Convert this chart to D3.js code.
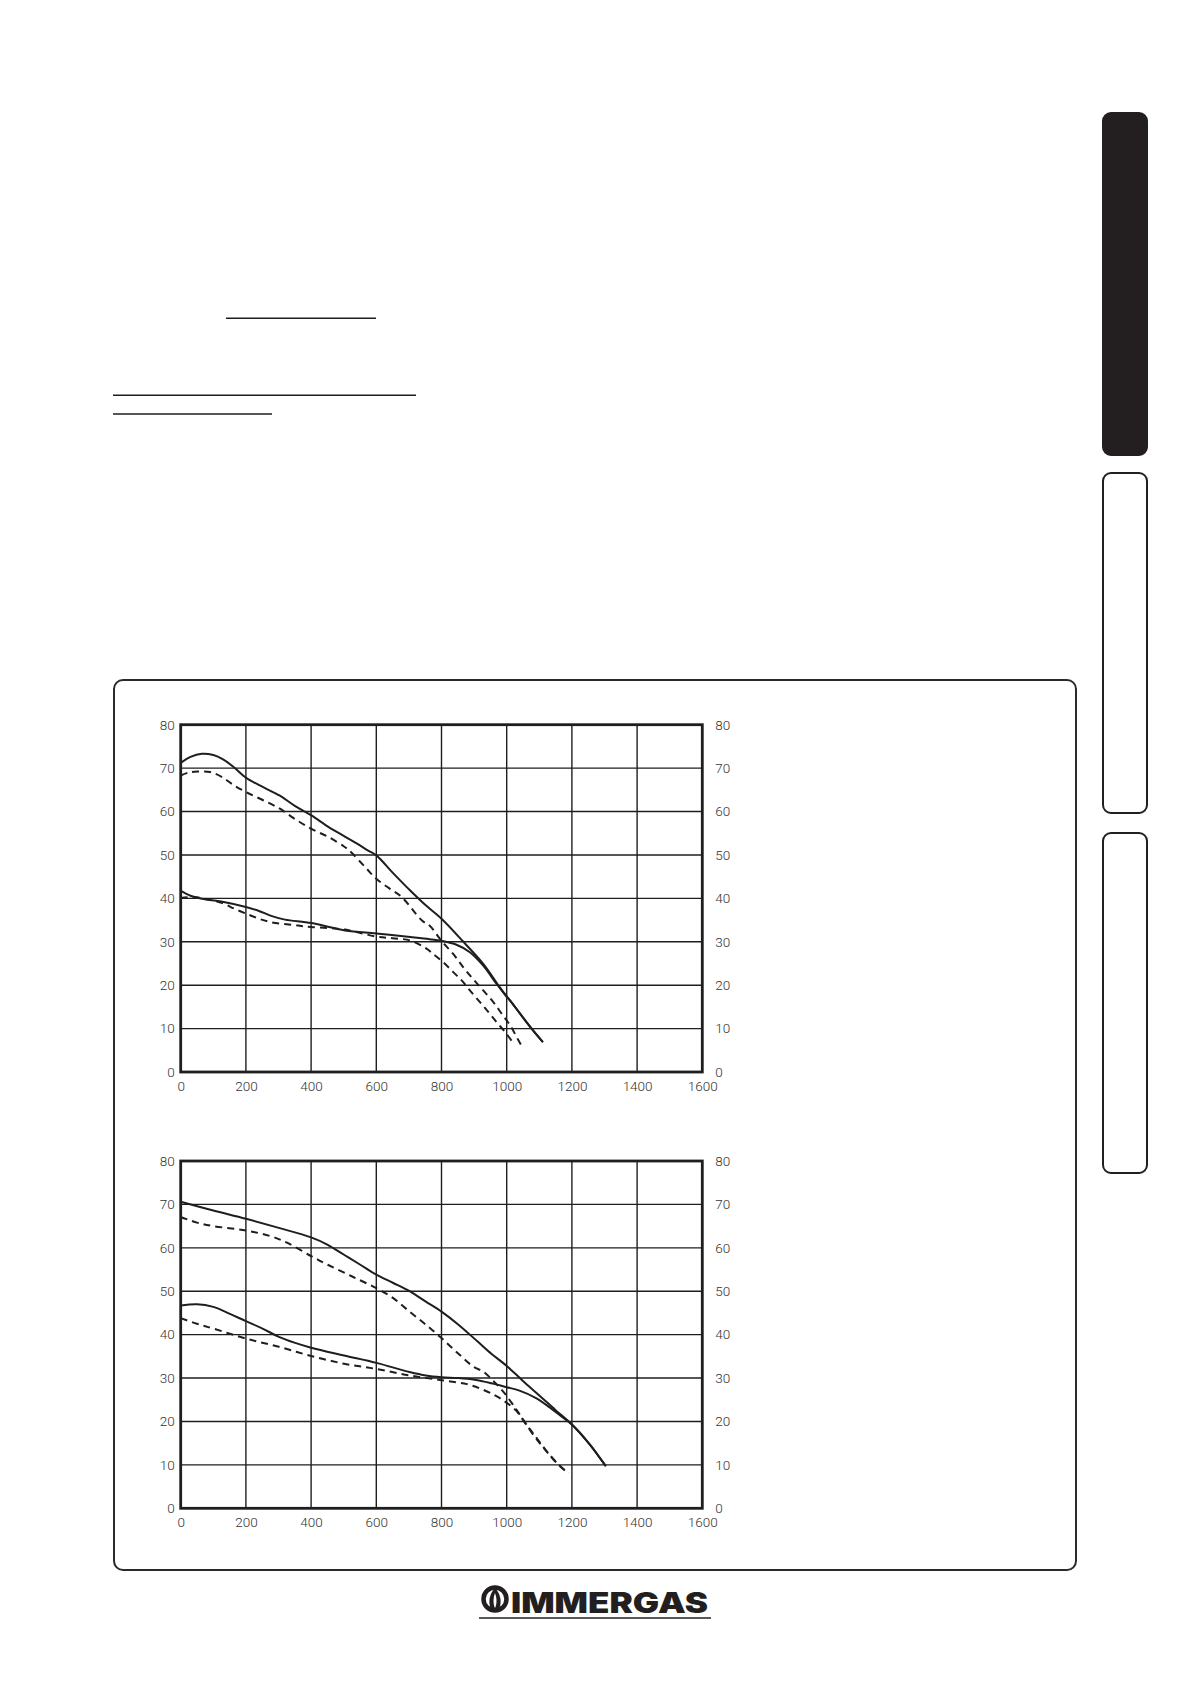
<!DOCTYPE html>
<html>
<head>
<meta charset="utf-8">
<script src="https://cdn.jsdelivr.net/npm/d3@7"></script>
<style>
  html, body { margin: 0; padding: 0; background: #fff; }
  svg { display: block; }
  .tick text { font-family: Roboto, "Open Sans", "DejaVu Sans", sans-serif; font-weight: 300; font-size: 13.5px; fill: #333; }
</style>
</head>
<body>
<script>
// ---- data ----
const xTicks = [0, 200, 400, 600, 800, 1000, 1200, 1400, 1600];
const yTicks = [0, 10, 20, 30, 40, 50, 60, 70, 80];

// Chart 1
const c1UpperSolid = [[0,71.2],[30,72.6],[65,73.3],[100,73],[130,72],[165,70.1],[200,67.8],[253,65.6],[303,63.7],[350,61.3],[401,59.1],[454,56.4],[500,54.4],[541,52.6],[575,51],[600,49.9],[653,45.7],[704,41.8],[750,38.5],[800,35.3],[867,30],[928,24.9],[979,19.5],[1010,16.5],[1072,10.4],[1111,6.9]];
const c1UpperDashed = [[0,68.3],[25,69],[53,69.2],[90,69.1],[128,67.9],[160,66.2],[200,64.5],[253,62.6],[303,60.7],[350,58.3],[401,56],[454,54.1],[500,52],[516,51.1],[566,47.2],[600,44.5],[640,42.3],[678,40.3],[740,34.9],[764,33.7],[800,30.2],[836,27.2],[867,24.1],[897,21.4],[928,18.8],[959,16.1],[985,13.4],[1010,10.8],[1036,7.3],[1046,6]];
const c1LowerSolid = [[0,41.7],[30,40.6],[65,39.9],[128,39.2],[200,38],[240,37.1],[280,35.9],[320,35.1],[401,34.3],[504,32.6],[600,31.9],[704,31.1],[764,30.6],[800,30.2],[846,29.3],[887,27.6],[928,24.5],[969,20.3],[1000,17.3],[1010,16.5],[1072,10.4],[1111,6.9]];
const c1LowerDashed = [[0,40.1],[40,40.3],[80,39.8],[128,38.9],[165,37.6],[200,36.5],[240,35.3],[278,34.5],[340,33.9],[401,33.4],[504,32.8],[600,31.2],[650,30.8],[704,30.3],[754,28.4],[774,27.2],[805,25.3],[836,23],[862,21.1],[887,18.8],[918,16.1],[944,13.8],[969,11.5],[995,9.2],[1015,7.2]];

// Chart 2
const c2UpperSolid = [[0,70.6],[100,68.6],[200,66.7],[301,64.6],[400,62.4],[451,60.7],[501,58.4],[551,56.1],[600,53.8],[652,51.9],[702,50],[752,47.6],[800,45.3],[852,42.3],[911,38.4],[953,35.6],[1000,32.8],[1049,29.4],[1100,26],[1150,22.6],[1200,19.3],[1254,14.8],[1304,9.7]];
const c2UpperDashed = [[0,67.1],[50,65.8],[100,65],[200,64],[275,62.7],[326,61.2],[400,58.1],[451,56.1],[526,53.4],[600,50.7],[652,48.4],[702,45.3],[752,42.3],[800,39.2],[852,35.6],[900,32.5],[926,31.6],[957,29.5],[988,27],[1018,24],[1049,20.6],[1080,17.1],[1111,14.1],[1142,11.4],[1162,9.8],[1188,8.1]];
const c2LowerSolid = [[0,46.7],[50,47],[100,46.4],[151,44.8],[200,43.1],[251,41.4],[301,39.5],[351,38.1],[400,37],[501,35.2],[600,33.5],[702,31.4],[752,30.6],[800,30.2],[852,30],[902,29.6],[953,28.8],[1000,27.9],[1039,27.1],[1090,25.4],[1131,23.3],[1172,20.9],[1200,19.3],[1254,14.8],[1304,9.7]];
const c2LowerDashed = [[0,43.8],[50,42.5],[100,41.4],[200,39.1],[301,37.2],[400,35.1],[501,33.3],[600,32.1],[702,30.6],[800,29.5],[878,28.6],[928,27.3],[967,25.9],[998,24.4],[1029,22.5],[1059,19.4],[1090,16.4],[1121,13.3],[1152,10.6],[1188,8.1]];

const charts = [
  { top: 724.7, bottom: 1072, series: [
    { data: c1UpperSolid, dashed: false },
    { data: c1UpperDashed, dashed: true },
    { data: c1LowerSolid, dashed: false },
    { data: c1LowerDashed, dashed: true } ] },
  { top: 1161, bottom: 1508.3, series: [
    { data: c2UpperSolid, dashed: false },
    { data: c2UpperDashed, dashed: true },
    { data: c2LowerSolid, dashed: false },
    { data: c2LowerDashed, dashed: true } ] }
];

// ---- drawing ----
const W = 1191, H = 1684;
const svg = d3.select("body").append("svg").attr("width", W).attr("height", H);
svg.append("rect").attr("width", W).attr("height", H).attr("fill", "#fff");

const ink = "#1e1e1e";

// decorative underline rules at top of page
const rules = [[226, 376, 318.3], [113, 416, 395.3], [113, 272, 414]];
svg.selectAll("line.rule").data(rules).join("line")
  .attr("class", "rule")
  .attr("x1", d => d[0]).attr("x2", d => d[1])
  .attr("y1", d => d[2]).attr("y2", d => d[2])
  .attr("stroke", ink).attr("stroke-width", 1.4);

// side tabs
const tabs = [[113, 455, true], [473, 813, false], [833, 1173, false]];
svg.selectAll("rect.tab").data(tabs).join("rect")
  .attr("class", "tab")
  .attr("x", 1103).attr("y", d => d[0])
  .attr("width", 44).attr("height", d => d[1] - d[0])
  .attr("rx", 8).attr("ry", 8)
  .attr("fill", d => d[2] ? "#231f20" : "#fff")
  .attr("stroke", "#231f20").attr("stroke-width", 2);

// outer frame
svg.append("rect").attr("x", 114).attr("y", 680).attr("width", 962).attr("height", 890)
  .attr("rx", 9).attr("ry", 9).attr("fill", "none").attr("stroke", "#2a2a2a").attr("stroke-width", 2);

const xLeft = 180.7, xRight = 702.3;

charts.forEach(ch => {
  const x = d3.scaleLinear().domain([0, 1600]).range([xLeft, xRight]);
  const y = d3.scaleLinear().domain([0, 80]).range([ch.bottom, ch.top]);
  const g = svg.append("g");

  // grid
  g.selectAll("line.vg").data(xTicks.slice(1, -1)).join("line")
    .attr("x1", d => x(d)).attr("x2", d => x(d))
    .attr("y1", ch.top).attr("y2", ch.bottom)
    .attr("stroke", ink).attr("stroke-width", 1.4);
  g.selectAll("line.hg").data(yTicks.slice(1, -1)).join("line")
    .attr("y1", d => y(d)).attr("y2", d => y(d))
    .attr("x1", xLeft).attr("x2", xRight)
    .attr("stroke", ink).attr("stroke-width", 1.4);

  // axes labels
  const ax = g.append("g").attr("transform", `translate(0,${ch.bottom})`)
    .call(d3.axisBottom(x).tickValues(xTicks).tickSize(0).tickPadding(9).tickFormat(d3.format("d")));
  ax.select(".domain").remove();
  const ayL = g.append("g").attr("transform", `translate(${xLeft - 1},0)`)
    .call(d3.axisLeft(y).tickValues(yTicks).tickSize(0).tickPadding(5).tickFormat(d3.format("d")));
  ayL.select(".domain").remove();
  const ayR = g.append("g").attr("transform", `translate(${xRight + 8},0)`)
    .call(d3.axisRight(y).tickValues(yTicks).tickSize(0).tickPadding(5).tickFormat(d3.format("d")));
  ayR.select(".domain").remove();

  // curves
  const line = d3.line().x(d => x(d[0])).y(d => y(d[1])).curve(d3.curveCatmullRom.alpha(0.5));
  g.selectAll("path.curve").data(ch.series).join("path")
    .attr("d", d => line(d.data))
    .attr("fill", "none")
    .attr("stroke", ink)
    .attr("stroke-width", 2)
    .attr("stroke-dasharray", d => d.dashed ? "7,5" : null);

  // plot frame
  g.append("rect").attr("x", xLeft).attr("y", ch.top)
    .attr("width", xRight - xLeft).attr("height", ch.bottom - ch.top)
    .attr("fill", "none").attr("stroke", ink).attr("stroke-width", 2.8);
});

// logo
const logo = svg.append("g");
logo.append("circle").attr("cx", 495).attr("cy", 1599).attr("r", 11.5)
  .attr("fill", "none").attr("stroke", "#231f20").attr("stroke-width", 4.5);
logo.append("path")
  .attr("d", "M495,1588 C489,1594 488,1603 491,1609 C493,1612 497,1612 499,1609 C502,1603 501,1594 495,1588 Z")
  .attr("fill", "#231f20");
logo.append("path")
  .attr("d", "M495,1593 C493,1598 493,1604 495,1608 C497,1604 497,1598 495,1593 Z")
  .attr("fill", "#fff");
logo.append("text").attr("x", 511).attr("y", 1612.5)
  .attr("font-family", "Inter, Lato, 'DejaVu Sans', sans-serif")
  .attr("font-weight", 900).attr("font-size", 28)
  .attr("textLength", 197).attr("lengthAdjust", "spacingAndGlyphs")
  .attr("fill", "#231f20").text("IMMERGAS");
logo.append("line").attr("x1", 479).attr("x2", 711).attr("y1", 1618).attr("y2", 1618)
  .attr("stroke", "#231f20").attr("stroke-width", 1.5);
</script>
</body>
</html>
